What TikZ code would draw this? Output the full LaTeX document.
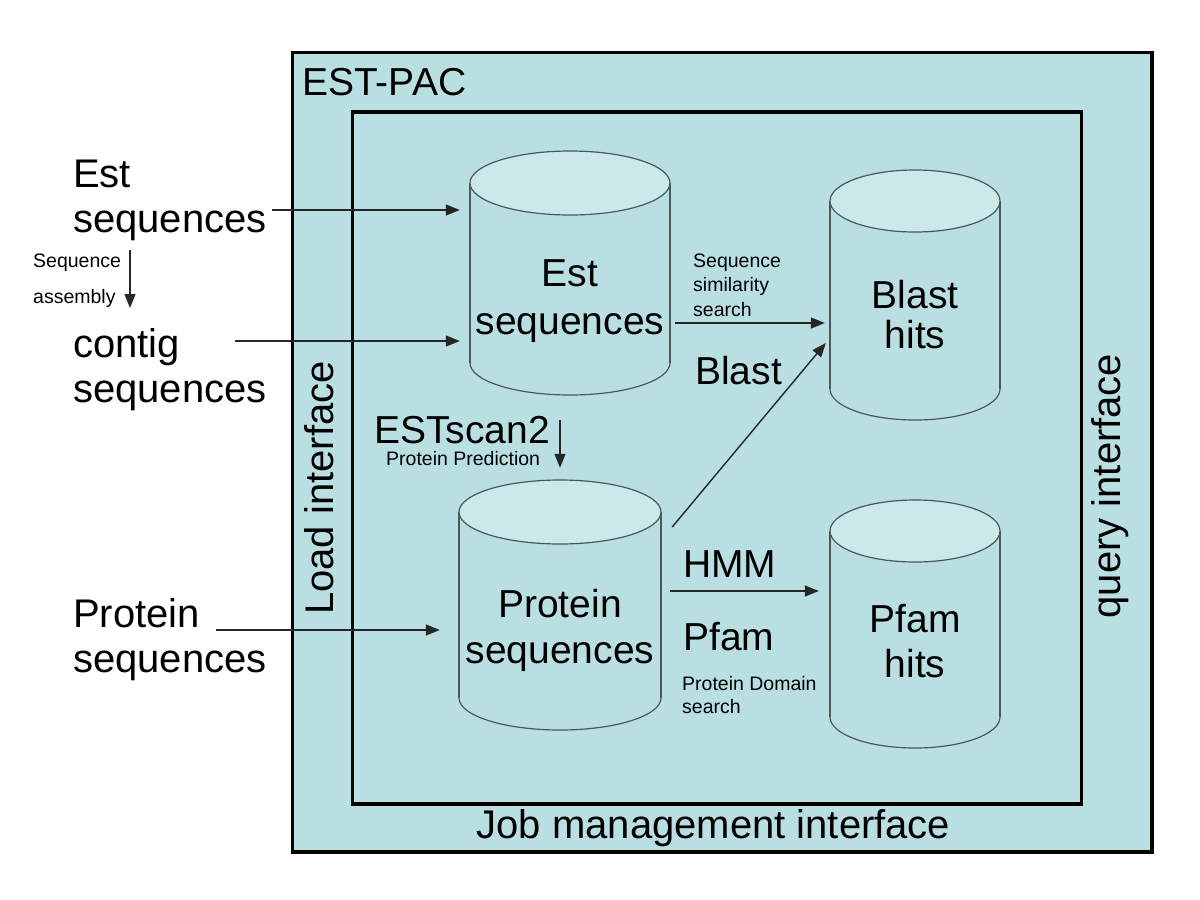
\documentclass[tikz,border=0pt]{standalone}
\usepackage{fontspec}
\setmainfont{Liberation Sans}
\usetikzlibrary{arrows.meta}
\definecolor{bg}{HTML}{B9DFE3}
\definecolor{topc}{HTML}{CBE8EB}
\definecolor{cylline}{HTML}{4A5858}
\newcommand{\dbcyl}[6]{%
  \fill[bg,draw=cylline,line width=1.2pt] (#1,#4) ellipse [x radius=#2pt, y radius=#5pt];
  \fill[bg] ({#1-#2},#3) rectangle ({#1+#2},#4);
  \draw[cylline,line width=1.2pt] ({#1-#2},#3) -- ({#1-#2},#4) ({#1+#2},#3) -- ({#1+#2},#4);
  \draw[cylline,line width=1.2pt,fill=topc] (#1,#3) ellipse [x radius=#2pt, y radius=#5pt];
  \node[inner sep=0pt, minimum width={2*#2pt}, minimum height={#4-#3+2*#5}] (#6) at ({#1},{(#3+#4)/2}) {};
}
\tikzset{
  big/.style={font=\fontsize{39}{47}\selectfont, inner sep=0pt},
  bigL/.style={font=\fontsize{40}{48}\selectfont, inner sep=0pt},
  small/.style={font=\fontsize{19.5}{23}\selectfont, inner sep=0pt},
  arr/.style={-{Triangle[length=14pt,width=11pt]}, line width=1.4pt, draw=black!85},
  boxframe/.style={draw=black, fill=bg, line width=3.5pt, inner sep=0pt, anchor=north west},
}
\begin{document}
\begin{tikzpicture}[x=1pt,y=-1pt]
\useasboundingbox (0,0) rectangle (1200,900);
% boxes
\node[boxframe, minimum width=859.5pt, minimum height=799.5pt] (outer) at (290.5,50.5) {};
\node[boxframe, minimum width=729pt, minimum height=692pt] (inner) at (350.5,110) {};
\node[big, anchor=base west] (estpac) at (302,95) {EST-PAC};
% cylinders
\dbcyl{570}{100}{183}{363}{32}{estcyl}
\dbcyl{915}{85}{201}{389}{31}{blastcyl}
\dbcyl{560}{101}{512}{698}{32}{protcyl}
\dbcyl{915}{85}{531}{717}{31}{pfamcyl}
% cylinder labels
\node[big, anchor=base] (est1) at (570,286) {Est};
\node[big, anchor=base] (est2) at (570,334) {sequences};
\node[big, anchor=base] (bl1) at (915,308) {Blast};
\node[big, anchor=base] (bl2) at (915,348) {hits};
\node[big, anchor=base] (pr1) at (560,617) {Protein};
\node[big, anchor=base] (pr2) at (560,663) {sequences};
\node[big, anchor=base] (pf1) at (915,632) {Pfam};
\node[big, anchor=base] (pf2) at (915,677) {hits};
% left inputs
\node[bigL, anchor=base west] (in1a) at (73,187) {Est};
\node[bigL, anchor=base west] (in1b) at (73,232) {sequences};
\node[small, anchor=base west] (sa1) at (33,267) {Sequence};
\node[small, anchor=base west] (sa2) at (33,303) {assembly};
\node[bigL, anchor=base west] (in2a) at (73,357) {contig};
\node[bigL, anchor=base west] (in2b) at (73,402) {sequences};
\node[bigL, anchor=base west] (in3a) at (73,627) {Protein};
\node[bigL, anchor=base west] (in3b) at (73,672) {sequences};
% side labels
\node[bigL, rotate=90, anchor=base] (load) at (333,488) {Load interface};
\node[bigL, rotate=90, anchor=base] (query) at (1120,486) {query interface};
\node[bigL, anchor=base] (job) at (713.5,838) {Job management interface};
% process labels
\node[small, anchor=base west] (ss1) at (693,267) {Sequence};
\node[small, anchor=base west] (ss2) at (693,291) {similarity};
\node[small, anchor=base west] (ss3) at (693,316) {search};
\node[big, anchor=base west] (blastlbl) at (695,384) {Blast};
\node[big, anchor=base west] (estscan) at (374,443) {ESTscan2};
\node[small, anchor=base west] (pp) at (386,465) {Protein Prediction};
\node[big, anchor=base west] (hmm) at (683,577) {HMM};
\node[big, anchor=base west] (pfamlbl) at (683,650) {Pfam};
\node[small, anchor=base west] (pd1) at (682,690) {Protein Domain};
\node[small, anchor=base west] (pd2) at (682,713) {search};
% connectors
\coordinate (scanA) at (560,420);
\coordinate (asmA) at (130,250);
\draw[arr] ([xshift=5pt]in1b.east |- 0,210) -- ([xshift=-10pt]estcyl.west |- 0,210);
\draw[arr] (in2a.east |- 0,341) ++(55,0) -- ([xshift=-10pt]estcyl.west |- 0,341);
\draw[arr] (in3a.east |- 0,630) ++(16,0) -- ([xshift=-19pt]protcyl.west |- 0,630);
\draw[arr] (asmA) -- (asmA |- 0,308);
\draw[arr] ([xshift=5pt]estcyl.east |- 0,323) -- ([xshift=-5pt]blastcyl.west |- 0,323);
\draw[arr] ([xshift=11pt]protcyl.east |- 0,527) -- ([xshift=-4pt]blastcyl.west |- 0,343);
\draw[arr] ([xshift=9pt]protcyl.east |- 0,591) -- ([xshift=-11pt]pfamcyl.west |- 0,591);
\draw[arr] (scanA) -- ([yshift=12pt]scanA |- protcyl.north);
\end{tikzpicture}
\end{document}
